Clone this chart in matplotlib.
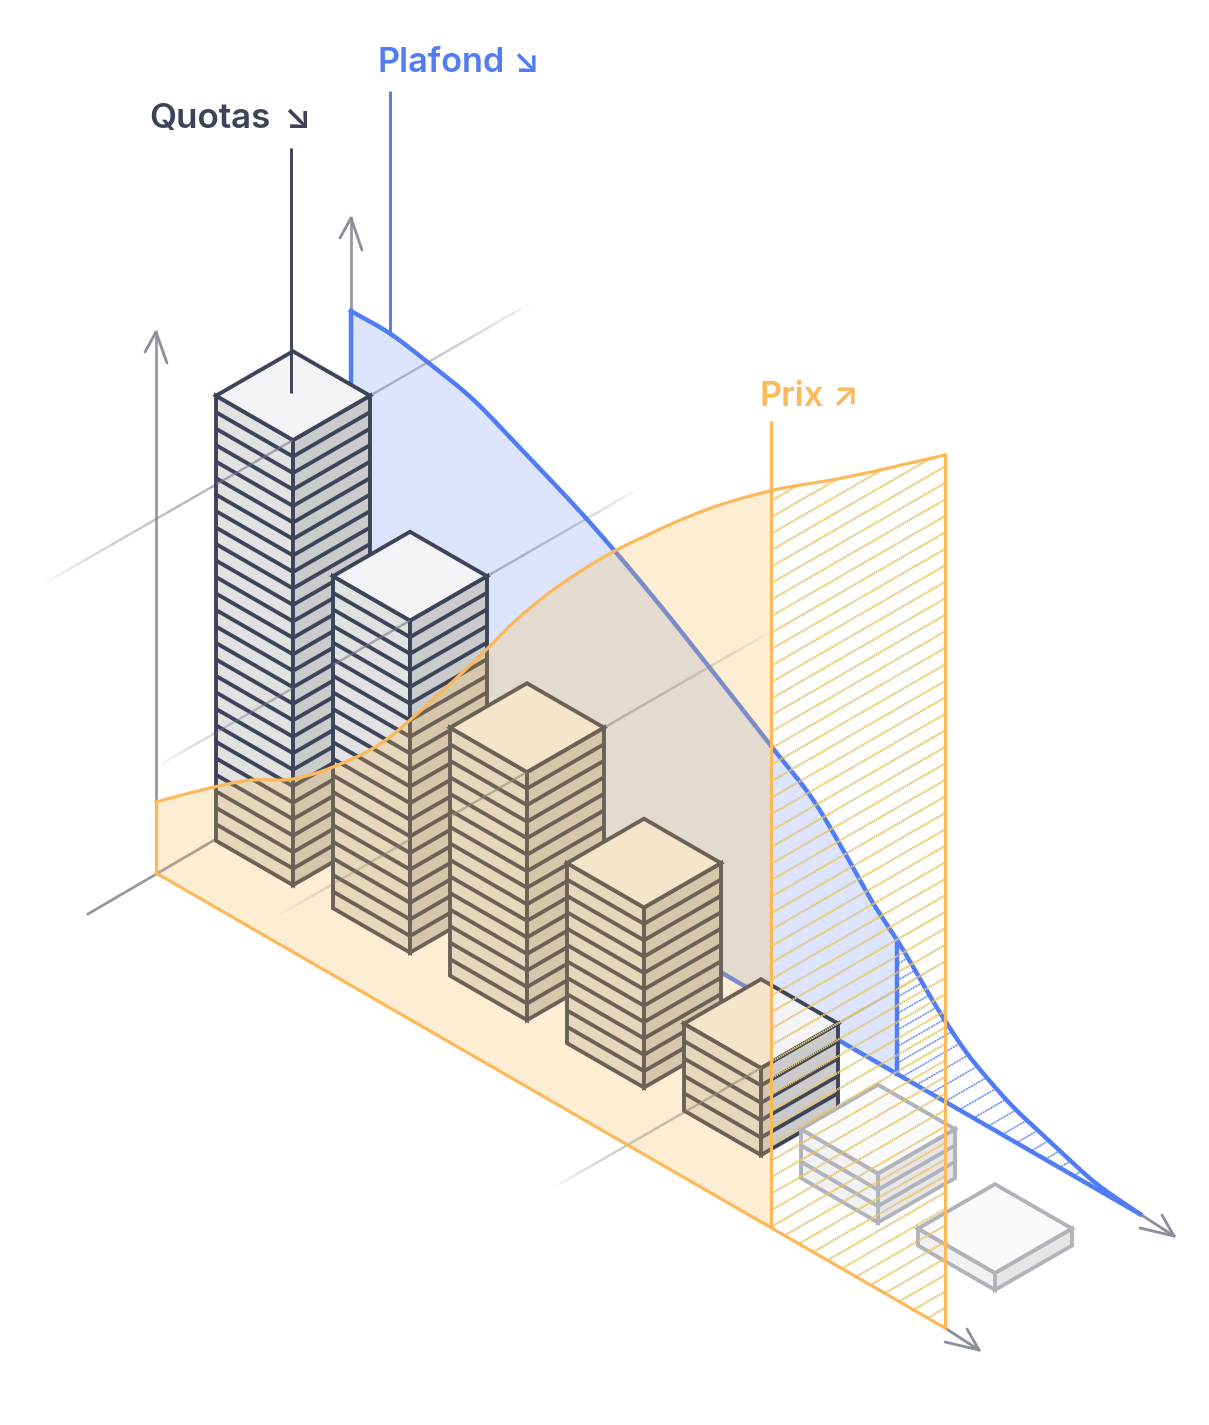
import numpy as np
import matplotlib
matplotlib.use('Agg')
import matplotlib.pyplot as plt
from matplotlib.collections import LineCollection
from matplotlib.patches import Polygon
from matplotlib.path import Path

# floors per stack and drawn height, the last two stacks are the faded ones
floors = [27, 20, 15, 11, 5, 3, 1]
stack_h = [445, 332, 248, 180, 87, 49, 17]
stack_pos = [79, 196, 313, 430, 547, 664, 781]

# plafond curve: position along the axis / height above the floor
plafond_t = [0, 39, 77, 122, 162, 202, 232, 264, 309, 359, 419, 466, 492, 522, 546, 592, 616, 636, 662, 686, 709, 742, 789]
plafond_h = [448, 448, 441, 430, 412, 393, 378, 360, 332, 298, 256, 222, 193, 157, 134, 83, 61, 48, 34, 25, 17, 6, 0]

# prix curve
prix_t = [0, 44, 94, 137, 161, 187, 211, 234, 251, 277, 307, 324, 357, 391, 424, 459, 491, 524, 557, 591, 615, 684, 789]
prix_h = [71, 108, 147, 173, 193, 218, 243, 271, 295, 333, 378, 404, 456, 504, 546, 587, 621, 655, 687, 717, 737, 789, 873]

labels = ['Quotas', 'Plafond', 'Prix']
label_arrows = ['↘', '↘', '↗']

DARK = '#3d4459'
BLUE = '#507df5'
ORANGE = '#fdb859'
GREY = '#8b8e9b'
SLOPE = 0.5767
OX, OY = 156, 873
HALF = 77
FRONT_D = 58
PLAFOND_D = 195
PLAFOND_Z = 1.5
PLAFOND_CUT = 546
PRIX_CUT = 615
T_END = 789


def iso(t, d=0, z=0):
    t = np.asarray(t, dtype=float)
    z = np.asarray(z, dtype=float)
    return np.column_stack([OX + t + d, OY + SLOPE * (t - d) - z])


def smooth(t, h, n=12):
    # hermite pieces through the read points, only so the curve is not angular
    t = np.array(t, dtype=float)
    h = np.array(h, dtype=float)
    m = np.gradient(h, t)
    out_t = []
    out_h = []
    for i in range(len(t) - 1):
        w = t[i + 1] - t[i]
        s = np.linspace(0, 1, n, endpoint=False)
        out_t += list(t[i] + s * w)
        out_h += list((2 * s**3 - 3 * s**2 + 1) * h[i] + (s**3 - 2 * s**2 + s) * w * m[i]
                      + (-2 * s**3 + 3 * s**2) * h[i + 1] + (s**3 - s**2) * w * m[i + 1])
    out_t.append(t[-1])
    out_h.append(h[-1])
    return np.array(out_t), np.array(out_h)


fig = plt.figure(figsize=(12.09, 14.25), dpi=100)
ax = fig.add_axes([0, 0, 1, 1])
ax.set_xlim(0, 1209)
ax.set_ylim(1425, 0)
ax.axis('off')


def hatch(poly, c0, color, lw, ls, z, alpha=1.0):
    clip = Polygon(poly, transform=ax.transData, fc='none', ec='none')
    ax.add_patch(clip)
    for c in np.arange(c0 % 16.5, 2600, 16.5):
        line, = ax.plot([0, 1209], [c, c - SLOPE * 1209], color=color, lw=lw, ls=ls, alpha=alpha, zorder=z)
        line.set_clip_path(clip)


# blue plane
p_t, p_h = smooth(plafond_t, plafond_h)
p_h = p_h + PLAFOND_Z
k = p_t <= PLAFOND_CUT
top = iso(p_t[k], PLAFOND_D, p_h[k])
ax.add_patch(Polygon(np.vstack([top, iso([PLAFOND_CUT, 0], PLAFOND_D, PLAFOND_Z)]), fc=BLUE, ec='none', alpha=0.2, zorder=1))
k = p_t >= PLAFOND_CUT
top = iso(p_t[k], PLAFOND_D, p_h[k])
hatch(np.vstack([top, iso([PLAFOND_CUT], PLAFOND_D, PLAFOND_Z)]), 1663, BLUE, 1.1, (0, (1.5, 0.4)), 1.5, alpha=0.85)

curve = iso(p_t, PLAFOND_D, p_h)
ax.plot(curve[:, 0], curve[:, 1], color=BLUE, lw=3.2, zorder=2, solid_joinstyle='round')
base = iso([0, T_END], PLAFOND_D, PLAFOND_Z)
ax.plot(base[:, 0], base[:, 1], color=BLUE, lw=3.2, zorder=2)
v = iso([0, 0], PLAFOND_D, [PLAFOND_Z, p_h[0]])
ax.plot(v[:, 0], v[:, 1], color=BLUE, lw=3.2, zorder=2, solid_capstyle='projecting')
v = iso([PLAFOND_CUT, PLAFOND_CUT], PLAFOND_D, [PLAFOND_Z, 134])
ax.plot(v[:, 0], v[:, 1], color=BLUE, lw=3.2, zorder=2, solid_capstyle='projecting')

# axes
ax.plot([88, 351], [914, 760], color=GREY, lw=2, alpha=0.9, zorder=0.5)
ax.plot([156, 156], [873, 332], color=GREY, lw=2, alpha=0.9, zorder=0.5)
ax.plot([351, 351], [760, 218], color=GREY, lw=2, alpha=0.9, zorder=0.5)
ax.plot([945, 979], [1328, 1350], color=GREY, lw=2, zorder=0.6)
ax.plot([1140, 1174], [1214, 1236], color=GREY, lw=2, zorder=0.6)
for tip, arms in [((156, 332), [(-11, 20), (11, 31)]), ((351, 218), [(-11, 20), (11, 32)]),
                  ((979, 1350), [(-34, -8), (-12, -21)]), ((1174, 1236), [(-34, -8), (-12, -21)])]:
    for dx, dy in arms:
        ax.plot([tip[0] + dx, tip[0]], [tip[1] + dy, tip[1]], color=GREY, lw=2, zorder=0.6, solid_capstyle='round')

# depth guides, they run along the top edge of some of the stacks
guide_spans = {0: (-190, 295), 1: (-197, 288), 2: (-189, 301), 4: (-148, 232)}
segs = []
cols = []
for i, (d0, d1) in guide_spans.items():
    ds = np.linspace(d0, d1, 61)
    x = OX + stack_pos[i] + ds
    y = OY + SLOPE * (stack_pos[i] - ds) - stack_h[i]
    for k in range(60):
        segs.append([(x[k], y[k]), (x[k + 1], y[k + 1])])
        cols.append((0.45, 0.46, 0.52, 0.6 * np.sin(np.pi * (k + 0.5) / 60) ** 0.7))
ax.add_collection(LineCollection(segs, colors=cols, linewidths=1.7, zorder=2.5))


# stacks
def stack(t, n, h, z0, stroke, c_top, c_left, c_right):
    fh = h / n
    lw = 2.8
    left = iso([t - HALF, t, t, t - HALF], FRONT_D, [0, 0, h, h])
    right = np.vstack([iso([t], FRONT_D, 0), iso([t], FRONT_D + HALF, 0), iso([t], FRONT_D + HALF, h), iso([t], FRONT_D, h)])
    roof = np.vstack([iso([t], FRONT_D, h), iso([t], FRONT_D + HALF, h), iso([t - HALF], FRONT_D + HALF, h), iso([t - HALF], FRONT_D, h)])
    ax.add_patch(Polygon(left, fc=c_left, ec=stroke, lw=lw, zorder=z0, joinstyle='miter'))
    ax.add_patch(Polygon(right, fc=c_right, ec=stroke, lw=lw, zorder=z0, joinstyle='miter'))
    for k in range(1, n):
        a = iso([t - HALF, t], FRONT_D, k * fh)
        b = np.vstack([iso([t], FRONT_D, k * fh), iso([t], FRONT_D + HALF, k * fh)])
        ax.plot(a[:, 0], a[:, 1], color=stroke, lw=lw, zorder=z0, solid_capstyle='butt')
        ax.plot(b[:, 0], b[:, 1], color=stroke, lw=lw, zorder=z0, solid_capstyle='butt')
    ax.add_patch(Polygon(roof, fc=c_top, ec=stroke, lw=lw, zorder=z0, joinstyle='miter'))
    return left


left_faces = []
for i in range(len(floors)):
    if i < 5:
        left_faces.append(stack(stack_pos[i], floors[i], stack_h[i], 3 + i * 0.1, DARK, '#f4f4f6', '#e2e2e2', '#cbcbcb'))
    else:
        stack(stack_pos[i], floors[i], stack_h[i], 3 + i * 0.1, '#b1b3bb', '#fafafb', '#f1f1f3', '#e6e6e8')

# guides show again over the left faces
lc = LineCollection(segs, colors=cols, linewidths=1.7, zorder=3.6)
ax.add_collection(lc)
verts = []
codes = []
for f in left_faces:
    verts += list(f) + [f[0]]
    codes += [Path.MOVETO, Path.LINETO, Path.LINETO, Path.LINETO, Path.CLOSEPOLY]
lc.set_clip_path(Path(verts, codes), ax.transData)

# leader lines
ax.plot([291, 291], [148, 393], color=DARK, lw=2.1, zorder=4, solid_capstyle='butt')
ax.plot([390, 390], [91, 333], color=BLUE, lw=2.1, zorder=2, solid_capstyle='butt')

# orange plane on top of everything
q_t, q_h = smooth(prix_t, prix_h)
k = q_t <= PRIX_CUT
top = iso(q_t[k], 0, q_h[k])
ax.add_patch(Polygon(np.vstack([top, iso([PRIX_CUT, 0], 0, 0)]), fc='#f8ba4d', ec='none', alpha=0.25, zorder=5))
k = q_t >= PRIX_CUT
top = iso(q_t[k], 0, q_h[k])
hatch(np.vstack([top, iso([T_END, PRIX_CUT], 0, 0)]), 962, '#e6c66c', 1.6, (0, (0.7, 0.3)), 5.1)

curve = iso(q_t, 0, q_h)
ax.plot(curve[:, 0], curve[:, 1], color=ORANGE, lw=2.3, zorder=6, solid_joinstyle='round')
b = iso([0, T_END], 0, 0)
ax.plot(b[:, 0], b[:, 1], color=ORANGE, lw=2.3, zorder=6)
ax.plot([156, 156], [802, 873], color=ORANGE, lw=2.3, zorder=6)
ax.plot([771, 771], [421, 1228], color=ORANGE, lw=2.3, zorder=6, solid_capstyle='butt')
ax.plot([945, 945], [455, 1328], color=ORANGE, lw=2.3, zorder=6)

fam = ['Inter', 'DejaVu Sans']
for name, arr, x, arr_x, y, col, fs in [(labels[0], label_arrows[0], 149.5, 283, 127.5, DARK, 25.2),
                                        (labels[1], label_arrows[1], 378, 512, 71.5, BLUE, 24.7),
                                        (labels[2], label_arrows[2], 759, 831, 406, ORANGE, 24.7)]:
    ax.text(x, y, name, color=col, fontsize=fs, fontweight='semibold', family=fam, zorder=7)
    ax.text(arr_x, y, arr, color=col, fontsize=fs, fontweight='semibold', family=fam, zorder=7)

fig.savefig('out.png', dpi=100)
